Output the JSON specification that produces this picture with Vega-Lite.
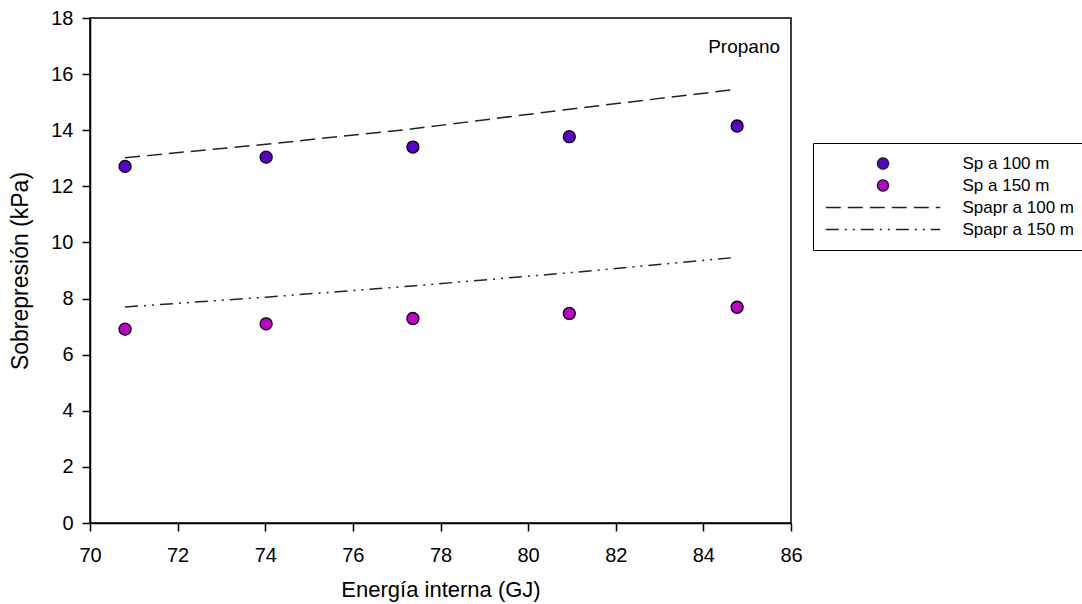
{
  "$schema": "https://vega.github.io/schema/vega-lite/v6.json",
  "width": 701,
  "height": 505,
  "autosize": {"type": "none"},
  "padding": {"left": 90, "top": 18, "right": 291, "bottom": 81},
  "background": "white",
  "config": {
    "font": "Liberation Sans",
    "view": {"stroke": "black", "strokeWidth": 1.5},
    "axis": {
      "grid": false,
      "labelFlush": false,
      "domainColor": "black",
      "domainWidth": 1.5,
      "tickColor": "black",
      "tickWidth": 1.5,
      "tickSize": 8,
      "labelFont": "Liberation Sans",
      "labelFontSize": 20,
      "labelColor": "black",
      "titleFont": "Liberation Sans",
      "titleFontWeight": "normal",
      "titleColor": "black"
    }
  },
  "datasets": {
    "pts": [
      {"energia": 70.8, "sp": 12.71, "series": "Sp a 100 m"},
      {"energia": 74.02, "sp": 13.04, "series": "Sp a 100 m"},
      {"energia": 77.37, "sp": 13.4, "series": "Sp a 100 m"},
      {"energia": 80.94, "sp": 13.77, "series": "Sp a 100 m"},
      {"energia": 84.77, "sp": 14.15, "series": "Sp a 100 m"},
      {"energia": 70.8, "sp": 6.91, "series": "Sp a 150 m"},
      {"energia": 74.02, "sp": 7.1, "series": "Sp a 150 m"},
      {"energia": 77.37, "sp": 7.29, "series": "Sp a 150 m"},
      {"energia": 80.94, "sp": 7.47, "series": "Sp a 150 m"},
      {"energia": 84.77, "sp": 7.69, "series": "Sp a 150 m"}
    ],
    "fit": [
      {"energia": 70.8, "sp": 13.02, "series": "Spapr a 100 m"},
      {"energia": 74.02, "sp": 13.5, "series": "Spapr a 100 m"},
      {"energia": 77.37, "sp": 14.05, "series": "Spapr a 100 m"},
      {"energia": 80.94, "sp": 14.75, "series": "Spapr a 100 m"},
      {"energia": 84.77, "sp": 15.46, "series": "Spapr a 100 m"},
      {"energia": 70.8, "sp": 7.7, "series": "Spapr a 150 m"},
      {"energia": 74.02, "sp": 8.05, "series": "Spapr a 150 m"},
      {"energia": 77.37, "sp": 8.45, "series": "Spapr a 150 m"},
      {"energia": 80.94, "sp": 8.92, "series": "Spapr a 150 m"},
      {"energia": 84.77, "sp": 9.47, "series": "Spapr a 150 m"}
    ],
    "label": [
      {"energia": 84.93, "sp": 16.96, "text": "Propano"}
    ]
  },
  "encoding": {
    "x": {
      "field": "energia",
      "type": "quantitative",
      "title": "Energía interna (GJ)",
      "scale": {"domain": [70, 86], "nice": false, "zero": false},
      "axis": {"values": [70, 72, 74, 76, 78, 80, 82, 84, 86], "labelPadding": 14, "titlePadding": 14, "titleFontSize": 22}
    },
    "y": {
      "field": "sp",
      "type": "quantitative",
      "title": "Sobrepresión (kPa)",
      "scale": {"domain": [0, 18], "nice": false},
      "axis": {"values": [0, 2, 4, 6, 8, 10, 12, 14, 16, 18], "labelPadding": 9, "titlePadding": 18, "titleFontSize": 23}
    }
  },
  "layer": [
    {
      "data": {"name": "fit"},
      "mark": {"type": "line", "color": "#222222", "strokeWidth": 1.5},
      "encoding": {
        "strokeDash": {
          "field": "series",
          "type": "nominal",
          "scale": {
            "domain": ["Sp a 100 m", "Sp a 150 m", "Spapr a 100 m", "Spapr a 150 m"],
            "range": [[1, 0], [1, 0], [15, 7], [13, 6, 2, 6, 2, 6]]
          },
          "legend": {
            "title": null,
            "orient": "none",
            "legendX": 723,
            "legendY": 125,
            "padding": 12,
            "strokeColor": "black",
            "symbolOffset": 49.5,
            "labelOffset": 71,
            "labelFontSize": 17,
            "labelFont": "Liberation Sans",
            "labelColor": "black",
            "rowPadding": 4,
            "symbolSize": 121,
            "symbolStrokeColor": "black",
            "symbolStrokeWidth": 1.5,
            "encode": {"symbols": {"update": {"stroke": {"value": "#222222"}, "strokeWidth": {"value": 1.5}, "opacity": {"value": 1}}}}
          }
        }
      }
    },
    {
      "data": {"name": "pts"},
      "mark": {"type": "point", "filled": true, "stroke": "black", "strokeWidth": 1.3, "size": 144, "opacity": 1},
      "encoding": {
        "fill": {
          "field": "series",
          "type": "nominal",
          "scale": {
            "domain": ["Sp a 100 m", "Sp a 150 m", "Spapr a 100 m", "Spapr a 150 m"],
            "range": ["#5a00cc", "#c000cc", "transparent", "transparent"]
          },
          "legend": {"title": null}
        },
        "shape": {
          "field": "series",
          "type": "nominal",
          "scale": {
            "domain": ["Sp a 100 m", "Sp a 150 m", "Spapr a 100 m", "Spapr a 150 m"],
            "range": ["M1,0A1,1,0,1,1,-1,0A1,1,0,1,1,1,0Z", "M1,0A1,1,0,1,1,-1,0A1,1,0,1,1,1,0Z", "M-10.4,0H10.4", "M-10.4,0H10.4"]
          },
          "legend": {"title": null}
        }
      }
    },
    {
      "data": {"name": "label"},
      "mark": {"type": "text", "font": "Liberation Sans", "fontSize": 19, "color": "black", "align": "center", "baseline": "middle"},
      "encoding": {"text": {"field": "text"}}
    }
  ]
}
